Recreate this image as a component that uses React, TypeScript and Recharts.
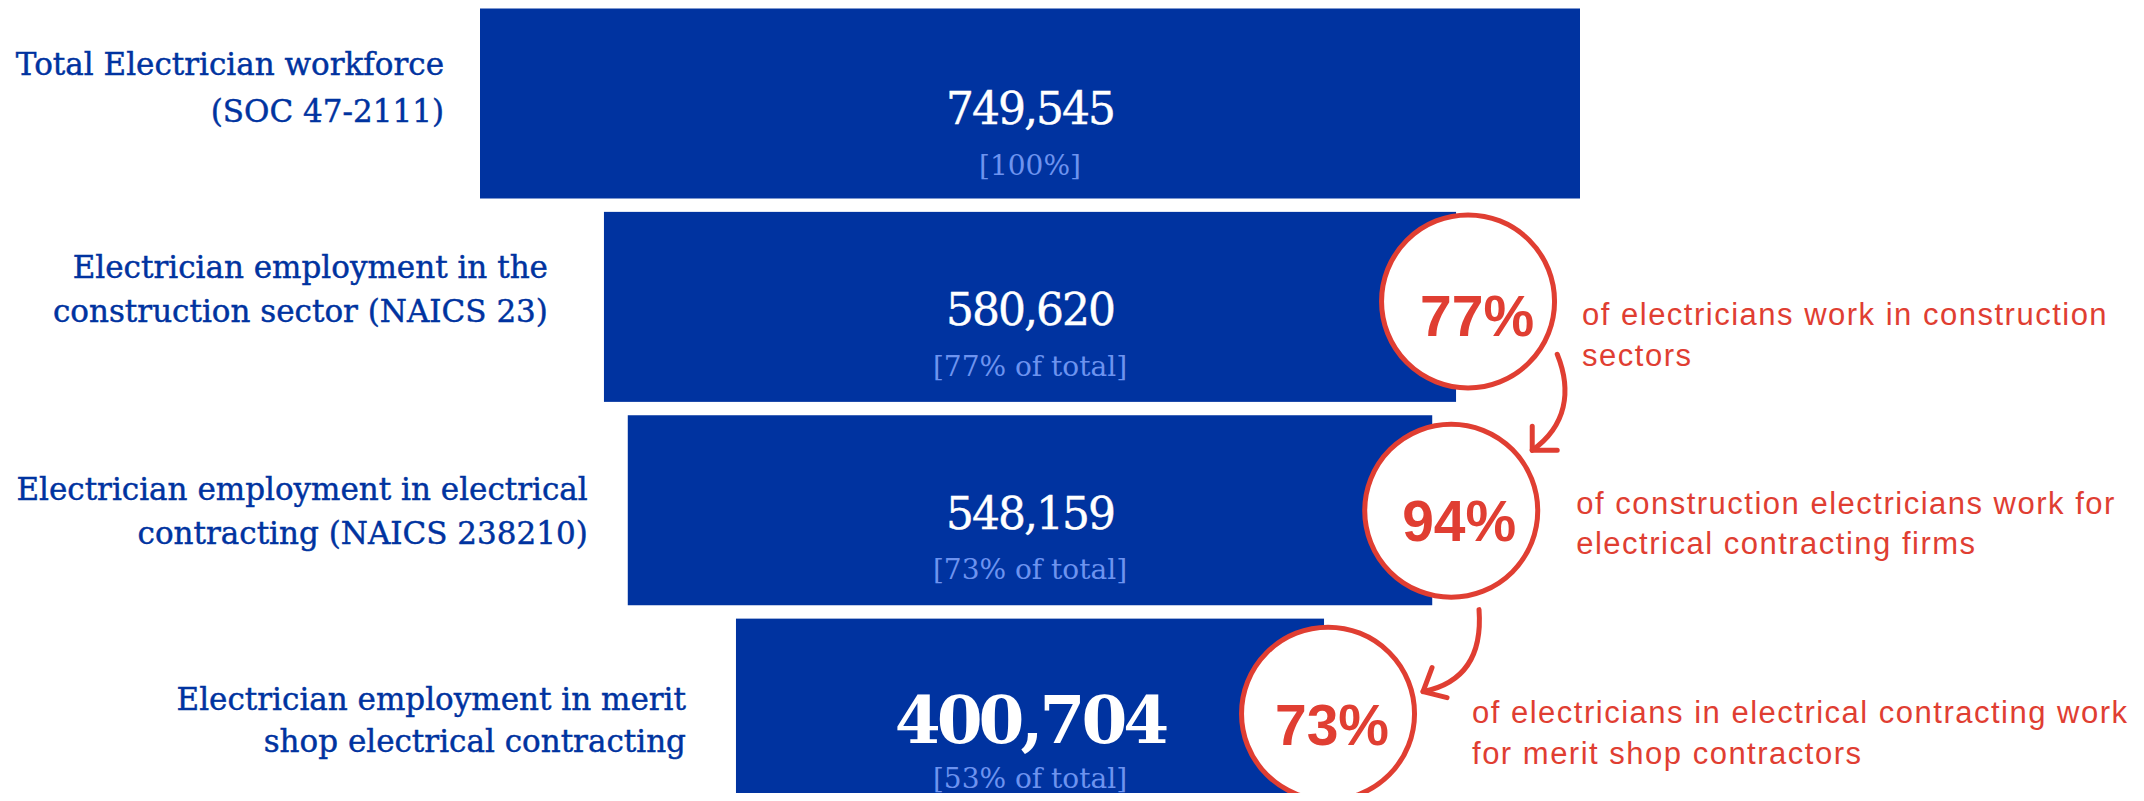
import React from 'react';
import { BarChart, Bar, XAxis, YAxis } from 'recharts';

// ---------- data ----------
const STAGE_NAMES = [
  'Total Electrician workforce',
  'Construction sector',
  'Electrical contracting',
  'Merit shop electrical contracting',
];
const STAGE_LABEL_LINES = [
  ['Total Electrician workforce', '(SOC 47-2111)'],
  ['Electrician employment in the', 'construction sector (NAICS 23)'],
  ['Electrician employment in electrical', 'contracting (NAICS 238210)'],
  ['Electrician employment in merit', 'shop electrical contracting'],
];
const STAGE_VALUES = [749545, 580620, 548159, 400704];
const SHARE_TEXT = ['[100%]', '[77% of total]', '[73% of total]', '[53% of total]'];
const STEP_PERCENT = ['', '77%', '94%', '73%'];
const STEP_NOTES = [
  [],
  ['of electricians work in construction', 'sectors'],
  ['of construction electricians work for', 'electrical contracting firms'],
  ['of electricians in electrical contracting work', 'for merit shop contractors'],
];

// ---------- styles / layout ----------
const BLUE = '#0033a0';
const LIGHT_BLUE = '#6d93ef';
const RED = '#e03e32';
const SERIF = '"DejaVu Serif", serif';
const SANS = '"Liberation Sans", Arial, sans-serif';

const LABEL_LAYOUT = [
  { gap: 36, base: [66, 113] },
  { gap: 56, base: [66, 110] },
  { gap: 40, base: [85, 129] },
  { gap: 50, base: [91, 133] },
];
const NUMBER_LAYOUT = [
  { num: 115, sub: 166 },
  { num: 113, sub: 164 },
  { num: 114, sub: 164 },
  { num: 124, sub: 169 },
];
const CIRCLE_LAYOUT: any[] = [
  null,
  { cx: 12, cy: 89.5, pdx: 9, pdy: 35, tx: 126, t1: 113, t2: 154, arrow: null },
  {
    cx: 19, cy: 95.5, pdx: 8, pdy: 30, tx: 144, t1: 99, t2: 139,
    arrow: { s: [125, -61], c1: [140, -24], c2: [134, 11], t: [100, 35], a1: [100, 11], a2: [125, 35] },
  },
  {
    cx: 4, cy: 95, pdx: 4, pdy: 31, tx: 148, t1: 104, t2: 145,
    arrow: { s: [155, -9], c1: [158, 32], c2: [144, 64], t: [99, 73], a1: [108, 49], a2: [123, 79] },
  },
];

const HALF = STAGE_VALUES[0] / 2;

const rows = STAGE_NAMES.map((name, i) => ({
  name,
  value: STAGE_VALUES[i],
  range: [-STAGE_VALUES[i] / 2, STAGE_VALUES[i] / 2],
}));

const FunnelBlock = (props: any) => {
  const { x, y, width, height, index } = props;
  const left = Math.min(x, x + width);
  const w = Math.abs(width);
  const right = left + w;
  const mid = left + w / 2;
  const lab = LABEL_LAYOUT[index];
  const nl = NUMBER_LAYOUT[index];
  const emph = index === STAGE_VALUES.length - 1;
  const c = CIRCLE_LAYOUT[index];
  return (
    <g>
      <rect x={left} y={y} width={w} height={height} fill={BLUE} />
      {STAGE_LABEL_LINES[index].map((line, k) => (
        <text
          key={k}
          x={left - lab.gap}
          y={y + lab.base[k]}
          textAnchor="end"
          fontFamily={SERIF}
          fontSize={31}
          fill={BLUE}
          stroke={BLUE}
          strokeWidth={0.45}
        >
          {line}
        </text>
      ))}
      <text
        x={mid}
        y={y + nl.num}
        textAnchor="middle"
        fontFamily={SERIF}
        fontSize={emph ? 66 : 44}
        fontWeight={emph ? 700 : 400}
        letterSpacing={emph ? -4 : -2}
        fill="#ffffff"
        stroke={emph ? 'none' : '#ffffff'}
        strokeWidth={0.4}
      >
        {STAGE_VALUES[index].toLocaleString('en-US')}
      </text>
      <text
        x={mid}
        y={y + nl.sub}
        textAnchor="middle"
        fontFamily={SERIF}
        fontSize={28}
        fill={LIGHT_BLUE}
      >
        {SHARE_TEXT[index]}
      </text>
      {c && (
        <g>
          {c.arrow && (
            <g fill="none" stroke={RED} strokeWidth={5} strokeLinecap="round" strokeLinejoin="round">
              <path
                d={`M${right + c.arrow.s[0]},${y + c.arrow.s[1]} C${right + c.arrow.c1[0]},${y + c.arrow.c1[1]} ${right + c.arrow.c2[0]},${y + c.arrow.c2[1]} ${right + c.arrow.t[0]},${y + c.arrow.t[1]}`}
              />
              <path
                d={`M${right + c.arrow.a1[0]},${y + c.arrow.a1[1]} L${right + c.arrow.t[0]},${y + c.arrow.t[1]} L${right + c.arrow.a2[0]},${y + c.arrow.a2[1]}`}
              />
            </g>
          )}
          <circle cx={right + c.cx} cy={y + c.cy} r={86.5} fill="#ffffff" stroke={RED} strokeWidth={5} />
          <text
            x={right + c.cx + c.pdx}
            y={y + c.cy + c.pdy}
            textAnchor="middle"
            fontFamily={SANS}
            fontWeight={700}
            fontSize={57}
            fill={RED}
          >
            {STEP_PERCENT[index]}
          </text>
          {STEP_NOTES[index].map((line, k) => (
            <text
              key={k}
              x={right + c.tx}
              y={y + (k === 0 ? c.t1 : c.t2)}
              fontFamily={SANS}
              fontSize={31}
              letterSpacing={1.5}
              fill={RED}
            >
              {line}
            </text>
          ))}
        </g>
      )}
    </g>
  );
};

export default function App() {
  return (
    <div
      style={{
        margin: -8,
        width: 2144,
        height: 801,
        overflow: 'hidden',
        position: 'relative',
        background: '#ffffff',
      }}
    >
      <BarChart
        width={2144}
        height={815}
        data={rows}
        layout="vertical"
        margin={{ top: 1.5, right: 564, bottom: 0, left: 480 }}
        style={{ overflow: 'visible' }}
      >
        <XAxis type="number" domain={[-HALF, HALF]} hide />
        <YAxis type="category" dataKey="name" hide />
        <Bar dataKey="range" barSize={190} isAnimationActive={false} shape={FunnelBlock} />
      </BarChart>
    </div>
  );
}
